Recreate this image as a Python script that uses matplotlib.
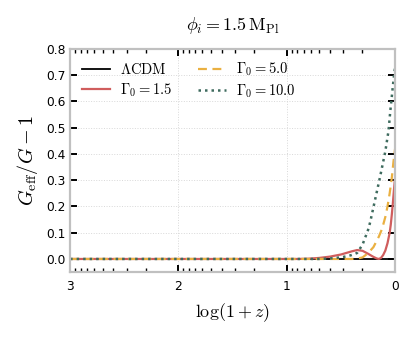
import numpy as np
import matplotlib
matplotlib.use('Agg')
import matplotlib.pyplot as plt
from matplotlib.ticker import FuncFormatter, LogLocator, NullFormatter

plt.rcParams['mathtext.fontset'] = 'cm'
plt.rcParams['font.family'] = 'DejaVu Sans'

# log10(1+z) sample positions and G_eff/G - 1
lcdm_x = [3.0, 0.0]
lcdm_y = [0.0, 0.0]

g15_x = [3.0, 0.9, 0.8, 0.7, 0.6, 0.5, 0.45, 0.4, 0.35, 0.3, 0.25, 0.2, 0.17, 0.15,
         0.13, 0.11, 0.09, 0.07, 0.05, 0.04, 0.03, 0.02, 0.01, 0.0]
g15_y = [0.0, 0.0, 0.001, 0.004, 0.009, 0.017, 0.023, 0.029, 0.034, 0.031, 0.02, 0.008,
         0.002, 0.0, 0.004, 0.015, 0.032, 0.06, 0.1, 0.13, 0.17, 0.215, 0.265, 0.31]

g50_x = [3.0, 0.5, 0.4, 0.35, 0.3, 0.25, 0.2, 0.15, 0.12, 0.09, 0.07, 0.05, 0.03,
         0.015, 0.0]
g50_y = [0.0, 0.0, 0.0, 0.001, 0.006, 0.022, 0.045, 0.085, 0.115, 0.16, 0.2, 0.25,
         0.31, 0.37, 0.42]

g100_x = [3.0, 0.7, 0.6, 0.5, 0.45, 0.4, 0.35, 0.3, 0.25, 0.23, 0.185, 0.14, 0.09,
          0.06, 0.045, 0.03, 0.02, 0.01, 0.0]
g100_y = [0.0, 0.0, 0.002, 0.006, 0.01, 0.015, 0.023, 0.055, 0.11, 0.14, 0.225, 0.31,
          0.41, 0.49, 0.56, 0.62, 0.66, 0.70, 0.73]

fig = plt.figure(figsize=(4.15, 3.38), dpi=100)
ax = fig.add_axes([0.169, 0.195, 0.783, 0.66])

def opz(p):
    return 10 ** np.array(p)

ax.plot(opz(lcdm_x), lcdm_y, color='black', lw=1.3, label=r'$\Lambda\mathrm{CDM}$')
ax.plot(opz(g15_x), g15_y, color='#d05d5d', lw=1.6, label=r'$\Gamma_0 = 1.5$')
ax.plot(opz(g50_x), g50_y, color='#eab041', lw=1.6, ls=(0, (4, 2.5)), label=r'$\Gamma_0 = 5.0$')
ax.plot(opz(g100_x), g100_y, color='#3e6b5e', lw=1.8, ls=(0, (1, 1.6)), label=r'$\Gamma_0 = 10.0$')

ax.set_xscale('log')
ax.set_xlim(1000, 1)
ax.set_ylim(-0.05, 0.8)
ax.set_yticks(np.arange(0, 0.81, 0.1))
ax.xaxis.set_major_locator(LogLocator(base=10, numticks=10))
ax.xaxis.set_minor_locator(LogLocator(base=10, subs=np.arange(2, 10), numticks=10))
ax.xaxis.set_major_formatter(FuncFormatter(lambda v, pos: f'{np.log10(v):.0f}'))
ax.xaxis.set_minor_formatter(NullFormatter())
ax.yaxis.set_major_formatter(FuncFormatter(lambda v, pos: f'{v:.1f}'))

ax.tick_params(which='both', direction='in', top=True, right=True, labelsize=8.8, color='black')
ax.tick_params(which='major', length=5, width=1.4)
ax.tick_params(which='minor', length=3, width=1.0)
ax.tick_params(axis='x', pad=6)

for s in ax.spines.values():
    s.set_color('#c0c0c0')
    s.set_linewidth(1.6)

ax.grid(True, which='major', color='#d8d8d8', lw=0.7, ls=':')
ax.set_axisbelow(True)

ax.set_xlabel(r'$\log(1+z)$', fontsize=13, labelpad=6)
ax.set_ylabel(r'$G_{\rm eff}/G - 1$', fontsize=14.5)
ax.set_title(r'$\phi_i = 1.5\,\mathrm{M_{Pl}}$', fontsize=13, pad=14)

ax.legend(loc='upper left', ncol=2, frameon=False, fontsize=10.5, handlelength=1.9,
          handletextpad=0.7, columnspacing=1.8, borderaxespad=0.4, labelspacing=0.3)

plt.savefig('out.png', dpi=100)
plt.close()
